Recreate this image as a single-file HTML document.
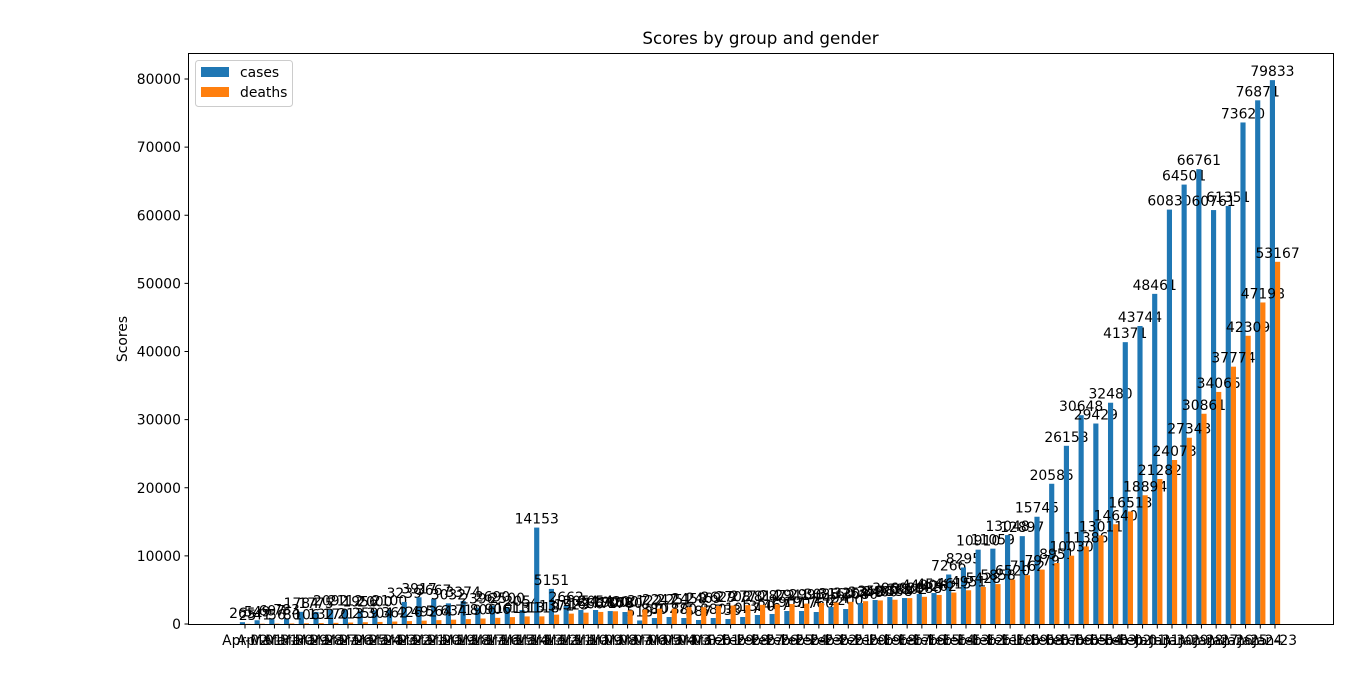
<!DOCTYPE html>
<html><head><meta charset="utf-8"><style>
body{margin:0;background:#fff}
svg{display:block;font-family:"DejaVu Sans","Liberation Sans",sans-serif}
</style></head><body>
<svg id="chart" width="1366" height="679" viewBox="0 0 1366 679" xmlns="http://www.w3.org/2000/svg">
<rect width="1366" height="679" fill="#fff"/>
<text x="760.5" y="44" font-size="16.7" text-anchor="middle">Scores by group and gender</text>
<text transform="translate(127,339) rotate(-90)" font-size="13.9" text-anchor="middle">Scores</text>
<g id="bars"></g>
<g id="ylabels"></g>
<g id="xlabels"></g>
<rect x="188.5" y="53.5" width="1145" height="571" fill="none" stroke="#000" stroke-width="1"/>
<g>
<rect x="195.5" y="60.5" width="97" height="46" rx="3" fill="#fff" fill-opacity="0.8" stroke="#ccc"/>
<rect x="201" y="67" width="28" height="10" fill="#1f77b4"/>
<text x="240" y="77" font-size="13.9">cases</text>
<rect x="201" y="87" width="28" height="10" fill="#ff7f0e"/>
<text x="240" y="97" font-size="13.9">deaths</text>
</g>
</svg>
<script>
const cases = [265,549,697,783,1784,1775,2092,2112,1956,2000,2100,3239,3917,3667,3032,3374,2396,2690,2500,2054,14153,5151,2662,2054,2054,1900,1760,518,880,1027,880,587,880,733,1027,1320,1467,1907,1907,1760,2494,2200,3080,3520,3960,3814,4400,4548,7266,8295,10910,11059,13048,12897,15745,20585,26158,30648,29429,32480,41371,43744,48461,60830,64501,66761,60761,61351,73620,76871,79833];
const deaths = [25,41,56,80,106,132,170,213,259,304,362,426,492,564,634,719,806,906,1013,1113,1118,1371,1523,1666,1770,1868,2007,2122,2247,2251,2458,2469,2629,2708,2770,2814,2872,2941,2996,3085,3160,3254,3348,3460,3558,3802,3988,4262,4615,4951,5428,5858,6520,7162,7979,8951,10030,11386,13011,14640,16513,18894,21282,24073,27343,30861,34065,37774,42309,47198,53167];
const yTicks = [0,10000,20000,30000,40000,50000,60000,70000,80000];
const months = ["Jan","Feb","Mar","Apr"];
const monthDays = [31,29,31,30];
const categories = [];
(function(){let m=0,d=23;for(let i=0;i<cases.length;i++){categories.push(months[m]+"-"+String(d).padStart(2,"0"));d++;if(d>monthDays[m]){d=1;m++;}}})();
const tickLabels = categories.slice().reverse();

const NS="http://www.w3.org/2000/svg";
const x0=245, x1=1275, yBase=624, yTop=79, yMax=80000;
const n=cases.length;
function xScale(i){return x0+i*(x1-x0)/(n-1);}
function yScale(v){return yBase-v*(yBase-yTop)/yMax;}
const bw=0.35*(x1-x0)/(n-1);
function mk(tag,attrs,parent){const e=document.createElementNS(NS,tag);for(const k in attrs)e.setAttribute(k,attrs[k]);parent.appendChild(e);return e;}
const bars=document.getElementById('bars'), yl=document.getElementById('ylabels'), xl=document.getElementById('xlabels');
function drawSeries(vals,off,color,nm){
  vals.forEach((v,i)=>{
    const cx=xScale(i)+off;
    const r=mk('rect',{x:cx-bw/2,y:yScale(v),width:bw,height:yBase-yScale(v),fill:color},bars);
    
    
    const t=mk('text',{x:cx,y:yScale(v)-4,'font-size':13.9,'text-anchor':'middle'},bars);
    t.textContent=v;
    
    
  });
}
drawSeries(cases,-bw/2,'#1f77b4','cases');
drawSeries(deaths,bw/2,'#ff7f0e','deaths');
yTicks.forEach(v=>{
  const y=yScale(v);
  const l=mk('line',{x1:184.5,x2:188.5,y1:y,y2:y,stroke:'#000'},yl);
  
  
  const t=mk('text',{x:181,y:y+5,'font-size':13.9,'text-anchor':'end'},yl);
  t.textContent=v;
  
  
});
tickLabels.forEach((s,i)=>{
  const x=xScale(i);
  const l=mk('line',{x1:x,x2:x,y1:624.5,y2:628.5,stroke:'#000'},xl);
  
  
  const t=mk('text',{x:x,y:645,'font-size':13.9,'text-anchor':'middle'},xl);
  t.textContent=s;
  
  
});
</script>
</body></html>
